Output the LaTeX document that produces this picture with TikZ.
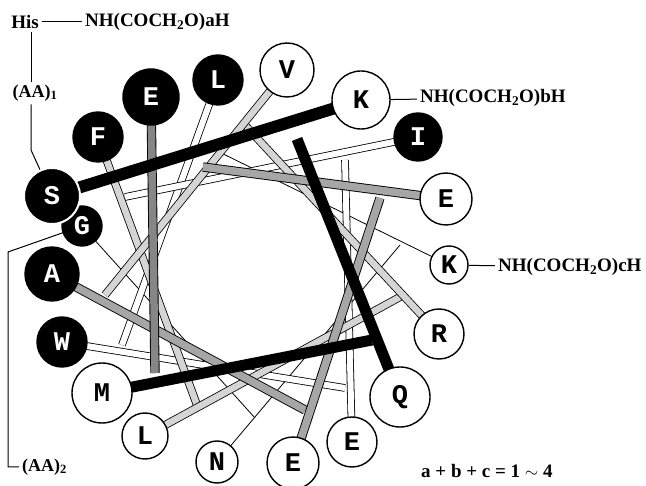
\documentclass[tikz,border=0pt]{standalone}
\usepackage{fontspec}
\setmainfont{Liberation Serif}
\newfontfamily\resfont{Liberation Mono}
\usetikzlibrary{positioning}

\tikzset{
  res/.style={circle, draw=black, line width=1.4pt, inner sep=0pt,
    font=\resfont\bfseries\fontsize{27}{27}\selectfont},
  wres/.style={res, fill=white},
  bres/.style={res, fill=black, text=white},
  blackbar/.style={line width=11pt},
  graybar/.style={draw=black, line width=0.9pt, double=gray!70, double distance=7.5pt},
  lightbar/.style={draw=black, line width=0.8pt, double=gray!33, double distance=6.5pt},
  whitebar/.style={draw=black, line width=0.8pt, double=white, double distance=6pt},
  thinbar/.style={line width=0.8pt},
  lab/.style={inner sep=3pt, font=\bfseries\fontsize{19}{19}\selectfont}
}

\begin{document}
\begin{tikzpicture}[x=1pt, y=-1pt]
  \useasboundingbox (0,0) rectangle (646,486);
  % residue centres
  \coordinate (cV) at (287,70);
  \coordinate (cL1) at (218,80);
  \coordinate (cE1) at (151,97);
  \coordinate (cF) at (98,137);
  \coordinate (cS) at (52,196);
  \coordinate (cG) at (82,226);
  \coordinate (cA) at (52,274);
  \coordinate (cW) at (62,342);
  \coordinate (cM) at (102,393);
  \coordinate (cL2) at (145,436);
  \coordinate (cN) at (217,462);
  \coordinate (cE2) at (293,463);
  \coordinate (cE3) at (352,442);
  \coordinate (cQ) at (400,397);
  \coordinate (cR) at (439,334);
  \coordinate (cK2) at (449,265);
  \coordinate (cE4) at (446,199);
  \coordinate (cI) at (418,137);
  \coordinate (cK1) at (361,100);
  % inner ends of the sticks
  \coordinate (fK1) at (297,139);
  \coordinate (fQ) at (372,340);
  \coordinate (fM) at (155,373);
  \coordinate (fE1) at (203,167);
  \coordinate (fE4) at (380,198);
  \coordinate (fE2) at (305,410);
  \coordinate (fA) at (105,295);
  \coordinate (fV) at (242,122);
  \coordinate (fR) at (400,297);
  \coordinate (fL2) at (197,405);
  \coordinate (fF) at (125,197);
  \coordinate (fI) at (345,160);
  \coordinate (fE3) at (345,388);
  \coordinate (fW) at (122,345);
  \coordinate (fL1) at (205,145);
  \coordinate (fK2) at (400,245);
  \coordinate (fN) at (255,418);
  % sticks, back to front
  \draw[thinbar] (fN) -- (cG);
  \draw[thinbar] (fK2) -- (cN);
  \draw[thinbar] (fL1) -- (cK2);
  \draw[whitebar] (fW) -- (cL1);
  \draw[whitebar] (fE3) -- (cW);
  \draw[whitebar] (fI) -- (cE3);
  \draw[whitebar] (fF) -- (cI);
  \draw[lightbar] (fL2) -- (cF);
  \draw[lightbar] (fR) -- (cL2);
  \draw[lightbar] (fV) -- (cR);
  \draw[lightbar] (fA) -- (cV);
  \draw[graybar] (fE2) -- (cA);
  \draw[graybar] (fE4) -- (cE2);
  \draw[graybar] (fE1) -- (cE4);
  \draw[graybar, double=gray!95] (fM) -- (cE1);
  \draw[blackbar] (fQ) -- (cM);
  \draw[blackbar] (fK1) -- (cQ);
  \draw[blackbar, line width=12pt] (cS) -- (cK1);
  % side chains to the labels
  \coordinate (bend1) at (31,150);
  \coordinate (bend2) at (8,252);
  \node[lab] (his) at (25,22) {His};
  \node[lab, anchor=west] (nha) at (82,22) {NH(COCH\textsubscript{2}O)aH};
  \node[lab, font=\bfseries\fontsize{18}{18}\selectfont] (aa1) at (35,93) {(AA)\textsubscript{1}};
  \draw[line width=1pt] (his) -- (nha);
  \draw[line width=1pt] (his.south -| bend1) -- (aa1.north -| bend1);
  \draw[line width=1pt] (aa1.south -| bend1) -- (bend1) -- (cS);
  \node[lab, anchor=west, font=\bfseries\fontsize{18}{18}\selectfont] (aa2) at (19,467) {(AA)\textsubscript{2}};
  \draw[line width=1pt] (cG) -- (bend2) |- (aa2.west);
  % residues
  \node[bres, minimum size=40pt] (G) at (cG) {G};
  \node[bres, minimum size=56pt, draw=white, line width=2pt] (S) at (cS) {S};
  \node[wres, minimum size=54pt] (V) at (cV) {V};
  \node[bres, minimum size=50pt] (L1) at (cL1) {L};
  \node[bres, minimum size=56pt] (E1) at (cE1) {E};
  \node[bres, minimum size=50pt] (F) at (cF) {F};
  \node[bres, minimum size=54pt] (A) at (cA) {A};
  \node[bres, minimum size=50pt] (W) at (cW) {W};
  \node[wres, minimum size=60pt] (M) at (cM) {M};
  \node[wres, minimum size=46pt] (L2) at (cL2) {L};
  \node[wres, minimum size=42pt] (N) at (cN) {N};
  \node[wres, minimum size=52pt] (E2) at (cE2) {E};
  \node[wres, minimum size=50pt] (E3) at (cE3) {E};
  \node[wres, minimum size=60pt] (Q) at (cQ) {Q};
  \node[wres, minimum size=50pt] (R) at (cR) {R};
  \node[wres, minimum size=38pt] (K2) at (cK2) {K};
  \node[wres, minimum size=52pt] (E4) at (cE4) {E};
  \node[bres, minimum size=48pt] (I) at (cI) {I};
  \node[wres, minimum size=58pt] (K1) at (cK1) {K};
  % end groups
  \node[lab, anchor=west] (nhb) at (417,98) {NH(COCH\textsubscript{2}O)bH};
  \node[lab, anchor=west] (nhc) at (495,267) {NH(COCH\textsubscript{2}O)cH};
  \draw[line width=1pt] (K1) -- (nhb);
  \draw[line width=1pt] (K2) -- (nhc);
  \node[lab, anchor=west] (sum) at (418,471) {a + b + c = 1 $\sim$ 4};
\end{tikzpicture}
\end{document}
